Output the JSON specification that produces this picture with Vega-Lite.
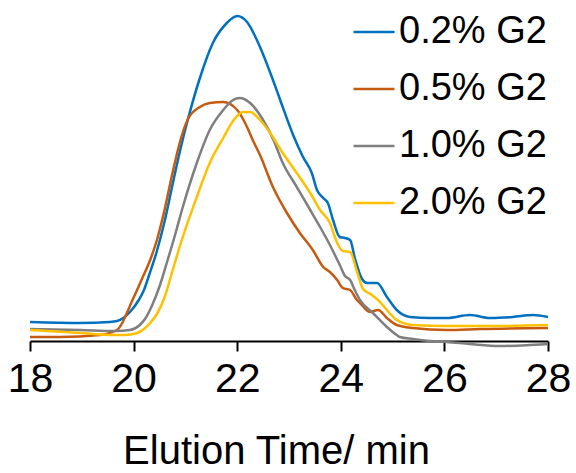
{
  "$schema": "https://vega.github.io/schema/vega-lite/v6.json",
  "width": 518,
  "height": 336,
  "autosize": "none",
  "padding": {"left": 30, "top": 5, "right": 28, "bottom": 132},
  "background": "white",
  "config": {"view": {"stroke": null}, "font": "Liberation Sans"},
  "data": {"values": [
    {"s":"0.2% G2","t":18.00,"v":19},{"s":"0.2% G2","t":18.97,"v":18},{"s":"0.2% G2","t":19.54,"v":19},{"s":"0.2% G2","t":19.68,"v":20},{"s":"0.2% G2","t":19.80,"v":23},{"s":"0.2% G2","t":19.93,"v":29},{"s":"0.2% G2","t":20.10,"v":41},{"s":"0.2% G2","t":20.20,"v":51},{"s":"0.2% G2","t":20.30,"v":66},{"s":"0.2% G2","t":20.45,"v":90},{"s":"0.2% G2","t":20.60,"v":120},{"s":"0.2% G2","t":20.75,"v":156},{"s":"0.2% G2","t":20.90,"v":191},{"s":"0.2% G2","t":21.05,"v":222},{"s":"0.2% G2","t":21.28,"v":263},{"s":"0.2% G2","t":21.53,"v":298},{"s":"0.2% G2","t":21.80,"v":318},{"s":"0.2% G2","t":22.00,"v":325},{"s":"0.2% G2","t":22.19,"v":319},{"s":"0.2% G2","t":22.44,"v":294},{"s":"0.2% G2","t":22.69,"v":261},{"s":"0.2% G2","t":22.83,"v":241},{"s":"0.2% G2","t":23.08,"v":206},{"s":"0.2% G2","t":23.27,"v":184},{"s":"0.2% G2","t":23.44,"v":168},{"s":"0.2% G2","t":23.54,"v":151},{"s":"0.2% G2","t":23.66,"v":143},{"s":"0.2% G2","t":23.75,"v":138},{"s":"0.2% G2","t":23.85,"v":121},{"s":"0.2% G2","t":23.98,"v":104},{"s":"0.2% G2","t":24.08,"v":103},{"s":"0.2% G2","t":24.18,"v":101},{"s":"0.2% G2","t":24.27,"v":83},{"s":"0.2% G2","t":24.41,"v":62},{"s":"0.2% G2","t":24.51,"v":58},{"s":"0.2% G2","t":24.70,"v":58},{"s":"0.2% G2","t":24.89,"v":44},{"s":"0.2% G2","t":25.08,"v":31},{"s":"0.2% G2","t":25.34,"v":24},{"s":"0.2% G2","t":25.72,"v":23},{"s":"0.2% G2","t":26.05,"v":23},{"s":"0.2% G2","t":26.49,"v":26},{"s":"0.2% G2","t":26.88,"v":23},{"s":"0.2% G2","t":27.32,"v":24},{"s":"0.2% G2","t":27.71,"v":26},{"s":"0.2% G2","t":28.00,"v":24},
    {"s":"0.5% G2","t":18.00,"v":4},{"s":"0.5% G2","t":18.58,"v":4},{"s":"0.5% G2","t":19.35,"v":6},{"s":"0.5% G2","t":19.68,"v":11},{"s":"0.5% G2","t":19.78,"v":18},{"s":"0.5% G2","t":19.87,"v":28},{"s":"0.5% G2","t":19.97,"v":40},{"s":"0.5% G2","t":20.05,"v":49},{"s":"0.5% G2","t":20.16,"v":62},{"s":"0.5% G2","t":20.32,"v":81},{"s":"0.5% G2","t":20.45,"v":101},{"s":"0.5% G2","t":20.57,"v":125},{"s":"0.5% G2","t":20.76,"v":170},{"s":"0.5% G2","t":20.90,"v":200},{"s":"0.5% G2","t":21.05,"v":222},{"s":"0.5% G2","t":21.28,"v":234},{"s":"0.5% G2","t":21.47,"v":238},{"s":"0.5% G2","t":21.73,"v":239},{"s":"0.5% G2","t":22.00,"v":231},{"s":"0.5% G2","t":22.19,"v":214},{"s":"0.5% G2","t":22.30,"v":201},{"s":"0.5% G2","t":22.44,"v":186},{"s":"0.5% G2","t":22.69,"v":154},{"s":"0.5% G2","t":22.96,"v":128},{"s":"0.5% G2","t":23.21,"v":108},{"s":"0.5% G2","t":23.46,"v":91},{"s":"0.5% G2","t":23.66,"v":74},{"s":"0.5% G2","t":23.79,"v":69},{"s":"0.5% G2","t":23.93,"v":61},{"s":"0.5% G2","t":24.04,"v":53},{"s":"0.5% G2","t":24.18,"v":51},{"s":"0.5% G2","t":24.31,"v":41},{"s":"0.5% G2","t":24.37,"v":38},{"s":"0.5% G2","t":24.56,"v":29},{"s":"0.5% G2","t":24.72,"v":31},{"s":"0.5% G2","t":24.89,"v":23},{"s":"0.5% G2","t":25.08,"v":16},{"s":"0.5% G2","t":25.39,"v":13},{"s":"0.5% G2","t":26.05,"v":11},{"s":"0.5% G2","t":26.69,"v":12},{"s":"0.5% G2","t":28.00,"v":13},
    {"s":"1.0% G2","t":18.00,"v":12},{"s":"1.0% G2","t":18.97,"v":11},{"s":"1.0% G2","t":19.64,"v":10},{"s":"1.0% G2","t":19.93,"v":11},{"s":"1.0% G2","t":20.12,"v":16},{"s":"1.0% G2","t":20.22,"v":22},{"s":"1.0% G2","t":20.36,"v":36},{"s":"1.0% G2","t":20.51,"v":56},{"s":"1.0% G2","t":20.64,"v":78},{"s":"1.0% G2","t":20.80,"v":106},{"s":"1.0% G2","t":20.95,"v":134},{"s":"1.0% G2","t":21.22,"v":178},{"s":"1.0% G2","t":21.47,"v":211},{"s":"1.0% G2","t":21.73,"v":231},{"s":"1.0% G2","t":21.92,"v":241},{"s":"1.0% G2","t":22.05,"v":243},{"s":"1.0% G2","t":22.25,"v":238},{"s":"1.0% G2","t":22.50,"v":221},{"s":"1.0% G2","t":22.70,"v":201},{"s":"1.0% G2","t":22.88,"v":178},{"s":"1.0% G2","t":23.15,"v":154},{"s":"1.0% G2","t":23.41,"v":131},{"s":"1.0% G2","t":23.60,"v":114},{"s":"1.0% G2","t":23.79,"v":96},{"s":"1.0% G2","t":23.98,"v":76},{"s":"1.0% G2","t":24.08,"v":65},{"s":"1.0% G2","t":24.18,"v":61},{"s":"1.0% G2","t":24.27,"v":51},{"s":"1.0% G2","t":24.37,"v":41},{"s":"1.0% G2","t":24.62,"v":28},{"s":"1.0% G2","t":24.89,"v":14},{"s":"1.0% G2","t":25.08,"v":6},{"s":"1.0% G2","t":25.14,"v":4},{"s":"1.0% G2","t":25.39,"v":2},{"s":"1.0% G2","t":25.72,"v":0},{"s":"1.0% G2","t":26.05,"v":-1},{"s":"1.0% G2","t":26.49,"v":-3},{"s":"1.0% G2","t":27.07,"v":-5},{"s":"1.0% G2","t":27.65,"v":-4},{"s":"1.0% G2","t":28.00,"v":-3},
    {"s":"2.0% G2","t":18.00,"v":11},{"s":"2.0% G2","t":18.97,"v":8},{"s":"2.0% G2","t":19.54,"v":6},{"s":"2.0% G2","t":19.83,"v":6},{"s":"2.0% G2","t":20.07,"v":8},{"s":"2.0% G2","t":20.20,"v":12},{"s":"2.0% G2","t":20.32,"v":18},{"s":"2.0% G2","t":20.45,"v":27},{"s":"2.0% G2","t":20.60,"v":44},{"s":"2.0% G2","t":20.75,"v":70},{"s":"2.0% G2","t":20.90,"v":96},{"s":"2.0% G2","t":21.22,"v":144},{"s":"2.0% G2","t":21.47,"v":178},{"s":"2.0% G2","t":21.73,"v":203},{"s":"2.0% G2","t":21.92,"v":220},{"s":"2.0% G2","t":22.11,"v":229},{"s":"2.0% G2","t":22.25,"v":229},{"s":"2.0% G2","t":22.44,"v":221},{"s":"2.0% G2","t":22.65,"v":207},{"s":"2.0% G2","t":22.88,"v":188},{"s":"2.0% G2","t":23.15,"v":168},{"s":"2.0% G2","t":23.41,"v":148},{"s":"2.0% G2","t":23.60,"v":131},{"s":"2.0% G2","t":23.79,"v":118},{"s":"2.0% G2","t":23.93,"v":98},{"s":"2.0% G2","t":24.04,"v":90},{"s":"2.0% G2","t":24.18,"v":89},{"s":"2.0% G2","t":24.31,"v":70},{"s":"2.0% G2","t":24.43,"v":52},{"s":"2.0% G2","t":24.60,"v":46},{"s":"2.0% G2","t":24.72,"v":41},{"s":"2.0% G2","t":24.89,"v":31},{"s":"2.0% G2","t":25.08,"v":21},{"s":"2.0% G2","t":25.39,"v":16},{"s":"2.0% G2","t":26.05,"v":15},{"s":"2.0% G2","t":27.07,"v":15},{"s":"2.0% G2","t":28.00,"v":16}
  ]},
  "mark": {"type": "line", "interpolate": "monotone", "strokeWidth": 2.5, "clip": false},
  "encoding": {
    "x": {
      "field": "t", "type": "quantitative",
      "scale": {"domain": [18, 28], "nice": false, "zero": false},
      "axis": {
        "title": "Elution Time/ min",
        "values": [18, 20, 22, 24, 26, 28],
        "grid": false,
        "domainColor": "black", "domainWidth": 2,
        "tickColor": "black", "tickWidth": 2, "tickSize": 10,
        "labelFontSize": 41, "labelColor": "black", "labelPadding": 8,
        "labelFont": "Liberation Sans",
        "titleFontSize": 40, "titleFontWeight": "normal", "titleColor": "black",
        "titleFont": "Liberation Sans", "titlePadding": 32, "titleX": 246,
        "labelFlush": false, "labelOverlap": false
      }
    },
    "y": {
      "field": "v", "type": "quantitative",
      "scale": {"domain": [0, 336], "nice": false, "zero": false},
      "axis": null
    },
    "color": {
      "field": "s", "type": "nominal",
      "scale": {"domain": ["0.2% G2", "0.5% G2", "1.0% G2", "2.0% G2"], "range": ["#0070C0", "#C55A11", "#7F7F7F", "#FFC000"]},
      "legend": {
        "title": null,
        "orient": "none",
        "legendX": 322,
        "legendY": 5,
        "padding": 0,
        "symbolType": "stroke",
        "symbolSize": 1681,
        "symbolStrokeWidth": 2.5,
        "labelFontSize": 38,
        "labelFont": "Liberation Sans",
        "labelColor": "black",
        "labelOffset": 3,
        "rowPadding": 16,
        "labelLimit": 300
      }
    }
  }
}
